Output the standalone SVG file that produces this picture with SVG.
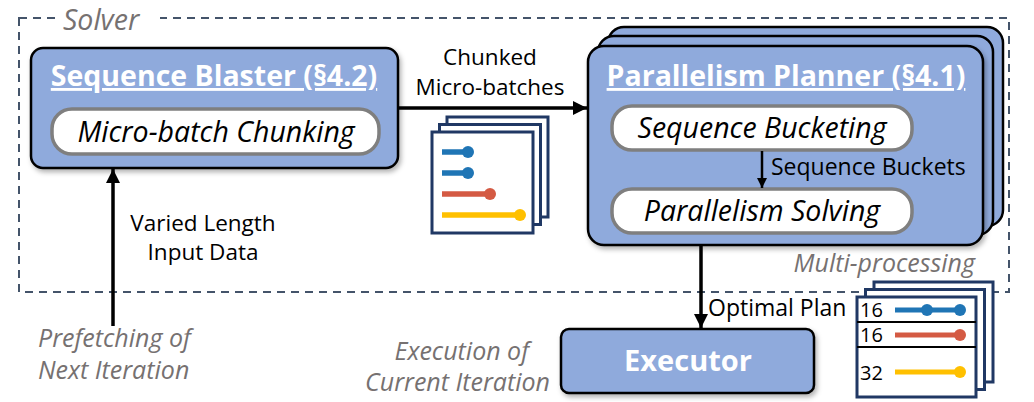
<svg xmlns="http://www.w3.org/2000/svg" width="1034" height="402" viewBox="0 0 1034 402">
<defs>
<style>
.box{fill:#8faadc;stroke:#000;stroke-width:2.5}
.inner{fill:#fff;stroke:#7f7f7f;stroke-width:3.5}
.title{font-family:"Open Sans","Noto Sans",sans-serif;font-weight:bold;fill:#fff;text-decoration:underline}
.it{font-family:"Open Sans","Noto Sans",sans-serif;font-style:italic;fill:#000}
.gray{font-family:"Open Sans","Noto Sans",sans-serif;font-style:italic;fill:#767171}
.lbl{font-family:"Open Sans","Noto Sans",sans-serif;fill:#000}
.page{fill:#fff;stroke:#203864;stroke-width:3}
.conn{stroke:#000;stroke-width:3.5;fill:none}
</style>
<marker id="ah" viewBox="0 0 10 10" refX="10" refY="5" markerWidth="4" markerHeight="4" orient="auto" markerUnits="strokeWidth">
<path d="M0,0 L10,5 L0,10 z" fill="#000"/>
</marker>
<filter id="sh" x="-10%" y="-10%" width="130%" height="140%">
<feDropShadow dx="2" dy="3" stdDeviation="2.5" flood-color="#000" flood-opacity="0.3"/>
</filter>
</defs>
<rect width="1034" height="402" fill="#fff"/>

<g id="solver">
<rect x="19" y="18" width="990" height="274" fill="none" stroke="#44546a" stroke-width="2" stroke-dasharray="8,6"/>
<rect x="60" y="6" width="100" height="22" fill="#fff"/>
<text x="63" y="30" class="gray" font-size="28.5">Solver</text>
<text x="975" y="272" class="gray" font-size="25" text-anchor="end">Multi-processing</text>
</g>

<g id="sequence-blaster">
<rect x="31" y="48" width="367" height="120" rx="12" class="box" filter="url(#sh)"/>
<text x="214" y="86" class="title" font-size="28.5" text-anchor="middle">Sequence Blaster (§4.2)</text>
<rect x="52" y="109" width="327" height="45" rx="20" class="inner"/>
<text x="216" y="142" class="it" font-size="28.5" text-anchor="middle">Micro-batch Chunking</text>
</g>

<g id="parallelism-planner">
<rect x="608" y="27" width="395" height="199" rx="16" class="box"/>
<rect x="598" y="36" width="395" height="199" rx="16" class="box"/>
<rect x="588" y="46" width="395" height="199" rx="16" class="box" filter="url(#sh)"/>
<text x="786" y="86" class="title" font-size="28.5" text-anchor="middle">Parallelism Planner (§4.1)</text>
<rect x="612" y="106" width="300" height="44" rx="20" class="inner"/>
<text x="762" y="138" class="it" font-size="28.5" text-anchor="middle">Sequence Bucketing</text>
<rect x="612" y="189" width="300" height="44" rx="20" class="inner"/>
<text x="762" y="221" class="it" font-size="28.5" text-anchor="middle">Parallelism Solving</text>
</g>

<g id="executor">
<rect x="561" y="329" width="253" height="64" rx="8" class="box" filter="url(#sh)"/>
<text x="688" y="371" font-family="Open Sans,Noto Sans,sans-serif" font-weight="bold" font-size="29" fill="#fff" text-anchor="middle">Executor</text>
</g>

<g id="micro-batches-icon">
<rect x="447" y="117" width="101" height="100" class="page"/>
<rect x="439.5" y="124.5" width="101" height="100" class="page"/>
<rect x="432" y="132" width="101" height="101" class="page"/>
<g stroke-width="5.5" stroke-linecap="butt">
<line x1="442" y1="152" x2="468" y2="152" stroke="#1f75b5"/>
<circle cx="468" cy="152" r="6" fill="#1f75b5"/>
<line x1="442" y1="173" x2="468" y2="173" stroke="#1f75b5"/>
<circle cx="468" cy="173" r="6" fill="#1f75b5"/>
<line x1="442" y1="194" x2="490" y2="194" stroke="#d45a43"/>
<circle cx="490" cy="194" r="6" fill="#d45a43"/>
<line x1="442" y1="215" x2="520" y2="215" stroke="#ffc000"/>
<circle cx="520" cy="215" r="6" fill="#ffc000"/>
</g>
</g>

<g id="plan-icon">
<rect x="874" y="282" width="119" height="100" class="page"/>
<rect x="865.5" y="289.5" width="119" height="100" class="page"/>
<rect x="857" y="297" width="119" height="100" class="page"/>
<line x1="857" y1="322" x2="976" y2="322" stroke="#000" stroke-width="2"/>
<line x1="857" y1="347" x2="976" y2="347" stroke="#000" stroke-width="2"/>
<text x="860" y="317" class="lbl" font-size="20">16</text>
<text x="860" y="342" class="lbl" font-size="20">16</text>
<text x="860" y="380" class="lbl" font-size="20">32</text>
<g stroke-width="5">
<line x1="895" y1="310" x2="960" y2="310" stroke="#1f75b5"/>
<circle cx="927" cy="310" r="6" fill="#1f75b5"/>
<circle cx="960" cy="310" r="6" fill="#1f75b5"/>
<line x1="895" y1="335" x2="960" y2="335" stroke="#d45a43"/>
<circle cx="960" cy="335" r="6" fill="#d45a43"/>
<line x1="895" y1="372" x2="960" y2="372" stroke="#ffc000"/>
<circle cx="960" cy="372" r="6" fill="#ffc000"/>
</g>
</g>

<g id="connectors">
<line x1="113" y1="326" x2="113" y2="169" class="conn" marker-end="url(#ah)"/>
<line x1="399" y1="108" x2="587" y2="108" class="conn" marker-end="url(#ah)"/>
<line x1="762" y1="151" x2="762" y2="188" stroke="#000" stroke-width="2.5" marker-end="url(#ah)"/>
<line x1="701" y1="246" x2="701" y2="328" class="conn" marker-end="url(#ah)"/>
</g>

<g id="labels">
<text class="lbl" font-size="22.5" text-anchor="middle"><tspan x="203" y="231">Varied Length</tspan><tspan x="203" y="260">Input Data</tspan></text>
<text class="lbl" font-size="22.5" text-anchor="middle"><tspan x="490" y="65">Chunked</tspan><tspan x="490" y="95">Micro-batches</tspan></text>
<text x="771" y="175" class="lbl" font-size="23">Sequence Buckets</text>
<text x="708" y="316" class="lbl" font-size="23">Optimal Plan</text>
<text class="gray" font-size="25"><tspan x="38" y="347">Prefetching of</tspan><tspan x="38" y="379">Next Iteration</tspan></text>
<text class="gray" font-size="25" text-anchor="end"><tspan x="529" y="360">Execution of</tspan><tspan x="550" y="391">Current Iteration</tspan></text>
</g>
</svg>
